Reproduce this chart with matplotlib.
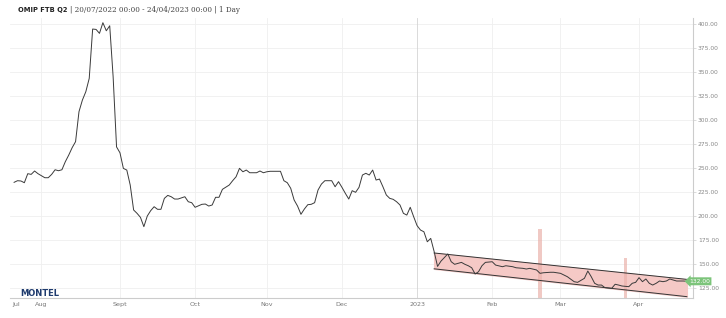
import matplotlib.pyplot as plt
import matplotlib.transforms as mtransforms
import pandas as pd

# trading-day offsets from 2022-07-20 and settlement prices (EUR/MWh)
day_idx = [0, 1, 2, 3, 4, 5, 6, 7, 9, 10, 11, 12, 13, 14, 15, 16, 17, 18, 19, 20,
           21, 22, 23, 24, 25, 26, 27, 28, 29, 30, 31, 32, 33, 34, 35, 36, 37, 38, 39, 40,
           41, 42, 43, 44, 45, 46, 47, 48, 50, 51, 52, 53, 55, 56, 57, 58, 59, 60, 61, 63,
           64, 65, 66, 67, 68, 69, 71, 72, 73, 74, 75, 76, 78, 79, 80, 81, 82, 83, 84, 85,
           86, 87, 88, 89, 90, 91, 92, 93, 94, 95, 96, 97, 98, 99, 100, 101, 102, 103, 104, 105,
           106, 107, 108, 109, 110, 111, 112, 113, 114, 115, 116, 117, 118, 119, 120, 121, 122, 123, 124, 125,
           127, 128, 129, 130, 131, 132, 133, 134, 135, 136, 137, 138, 140, 141, 143, 144, 146, 147, 149, 150,
           151, 153, 154, 155, 157, 158, 160, 162, 164, 165, 167, 168, 169, 170, 171, 172, 173, 175, 176, 177,
           178, 180, 181, 182, 183, 184, 185, 186, 187, 188, 189, 190, 191, 192, 193, 194, 196, 197]
price = [235.1, 236.8, 236.5, 234.7, 244.1, 243.4, 246.9, 244.1, 239.9, 239.9, 243.4, 248.2, 247.2, 248.2, 256.6, 263.5, 271.2, 277.5, 308.7, 320.8,
         329.5, 343.4, 394.8, 394.4, 390.3, 401.4, 393.0, 398.2, 345.0, 272.0, 265.9, 249.6, 247.9, 232.3, 206.3, 202.8, 198.6, 188.9, 200.0, 205.6,
         209.7, 207.0, 207.0, 218.4, 221.5, 220.1, 217.7, 217.7, 220.1, 214.9, 213.9, 209.1, 212.2, 212.5, 210.4, 211.5, 219.5, 219.5, 227.8, 232.3,
         236.8, 240.9, 249.7, 246.1, 247.9, 245.1, 245.1, 246.9, 245.1, 246.1, 246.6, 246.6, 246.6, 236.8, 234.7, 228.9, 216.7, 210.4, 201.8, 207.3,
         211.8, 212.2, 213.9, 227.1, 233.3, 236.8, 236.8, 236.8, 230.5, 235.8, 229.9, 223.6, 217.7, 226.4, 224.7, 229.9, 242.7, 244.5, 242.7, 247.9,
         237.5, 238.5, 230.5, 221.9, 218.4, 217.4, 214.9, 211.5, 202.8, 201.0, 209.1, 199.3, 190.0, 185.4, 183.6, 173.2, 176.7, 163.0, 147.5, 153.0,
         160.5, 152.4, 149.7, 150.7, 151.7, 149.7, 148.2, 146.1, 139.6, 142.0, 148.2, 151.7, 152.4, 148.9, 147.2, 148.2, 147.2, 146.1, 145.5, 144.8,
         145.5, 143.8, 140.3, 140.9, 141.4, 141.4, 140.3, 136.8, 131.6, 130.9, 135.1, 142.7, 136.8, 129.9, 128.1, 128.1, 125.4, 124.7, 128.9, 128.1,
         127.1, 126.4, 129.9, 130.9, 135.8, 131.6, 134.4, 129.9, 128.1, 129.9, 132.3, 131.6, 132.3, 134.4, 133.3, 132.3, 132.3, 132.0]

# trend channel drawn on the chart
channel_x = [123, 197]
channel_upper = [161.5, 134.0]
channel_lower = [145.0, 116.0]

# highlight markers
marker_x = [154, 179]
marker_top = [186.5, 156.6]

y_ticks = [125, 150, 175, 200, 225, 250, 275, 300, 325, 350, 375, 400]
month_labels = ["Aug", "Sept", "Oct", "Nov", "Dec", "2023", "Feb", "Mar", "Apr"]
last_price = 132.00

days = pd.bdate_range("2022-07-20", "2023-04-24")
month_starts = pd.Series(range(len(days)), index=days).groupby([days.year, days.month]).first()
month_pos = list(month_starts.values[1:10])

y_min, y_max = 114.6, 406.3

fig = plt.figure(figsize=(7.26, 3.18), dpi=100)
ax = fig.add_axes([10 / 726, 1 - 298 / 318, 683 / 726, 280 / 318])

# grid
for v in y_ticks:
    ax.axhline(v, color="#efefef", linewidth=0.6, zorder=0)
for lbl, p in zip(month_labels, month_pos):
    ax.axvline(p, color="#d4d4d4" if lbl == "2023" else "#efefef", linewidth=0.6, zorder=0)

# channel
ax.fill_between(channel_x, channel_lower, channel_upper, color="#f5c9c6", zorder=1)
ax.plot(channel_x, channel_upper, color="#333333", linewidth=0.7, zorder=3)
ax.plot(channel_x, channel_lower, color="#333333", linewidth=0.7, zorder=3)

# markers
for mx, mt in zip(marker_x, marker_top):
    ax.bar(mx, mt - y_min, bottom=y_min, width=1.1, color="#eab2ab", alpha=0.7, zorder=2)

ax.plot(day_idx, price, color="#3a3a3a", linewidth=0.7, zorder=4)

ax.set_xlim(-1.2, 198.8)
ax.set_ylim(y_min, y_max)

ax.set_xticks([0.5] + month_pos)
ax.set_xticklabels(["Jul"] + month_labels)
ax.yaxis.tick_right()
ax.set_yticks(y_ticks)
ax.set_yticklabels([f"{v:.2f}" for v in y_ticks])
ax.tick_params(axis="x", length=0, labelsize=4.6, labelcolor="#777777", pad=3)
ax.tick_params(axis="y", length=2, width=0.5, color="#cccccc", labelsize=4.3, labelcolor="#888888", pad=1.5)

for side in ["top", "left"]:
    ax.spines[side].set_visible(False)
for side in ["bottom", "right"]:
    ax.spines[side].set_color("#cccccc")
    ax.spines[side].set_linewidth(0.8)

# last price tag
trans = mtransforms.blended_transform_factory(ax.transAxes, ax.transData)
ax.text(1.0095, last_price, f"{last_price:.2f}", transform=trans, ha="center", va="center",
        fontsize=4.3, color="white", zorder=6,
        bbox=dict(boxstyle="larrow,pad=0.25", fc="#7cc47a", ec="none"))

# title: bold name, then the period in a serif face right after it
name = fig.text(18 / 726, 1 - 10 / 318, "OMIP FTB Q2", fontsize=4.9, fontweight="bold",
                color="#222222", va="center", ha="left")
fig.canvas.draw()
bb = name.get_window_extent()
fig.text((bb.x1 + 2) / 726, 1 - 10 / 318, "| 20/07/2022 00:00 - 24/04/2023 00:00 | 1 Day",
         fontsize=5.2, family="DejaVu Serif", color="#444444", va="center", ha="left")

# logo
fig.text(20 / 726, 1 - 293 / 318, "MONTEL", fontsize=6, fontweight="heavy",
         color="#1f3b6e", va="center", ha="left", family="DejaVu Sans")

fig.savefig("out.png", dpi=100)
